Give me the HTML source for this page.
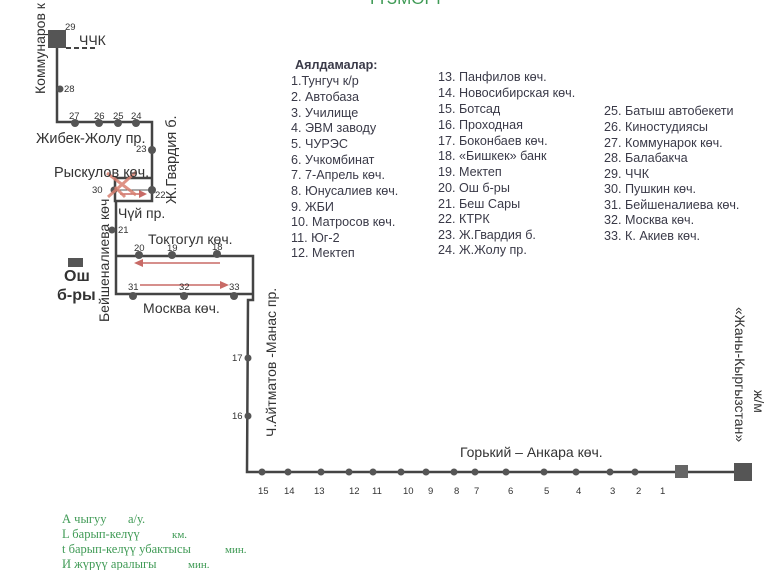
<!DOCTYPE html>
<html><head><meta charset="utf-8"><style>
html,body{margin:0;padding:0;background:#fff;}
svg{display:block;font-family:"Liberation Sans",Arial,sans-serif;}
.l{font-size:12.6px;fill:#3a3a48;}
.s{font-size:9.5px;fill:#333;}
.lb{font-size:14px;fill:#333;}
.g{font-family:"Liberation Serif",serif;font-size:12.5px;fill:#3f9a55;}
</style></head><body>
<svg width="777" height="570" viewBox="0 0 777 570" xmlns="http://www.w3.org/2000/svg">
<rect width="777" height="570" fill="#fff"/>
<text x="367" y="4" font-size="17" fill="#3f9a55">ТҮЗМӨГҮ</text>

<g fill="none" stroke="#444" stroke-width="2.5">
<polyline points="57,48 57,122 152,122 152,201 115,201 115,178 152,178"/>
<polyline points="116,201 116,294 253,294"/>
<polyline points="116,256 253,256 253,300 248,300 247,472 740,472"/>
</g>
<line x1="116" y1="190" x2="150" y2="190" stroke="#555" stroke-width="1"/>
<line x1="66" y1="48" x2="96" y2="48" stroke="#444" stroke-width="2" stroke-dasharray="5,3"/>
<rect x="48" y="30" width="18" height="18" fill="#555"/>
<rect x="675" y="465" width="13" height="13" fill="#666"/>
<rect x="734" y="463" width="18" height="18" fill="#555"/>
<rect x="68" y="258" width="15" height="9" fill="#555"/>

<g fill="#555">
<circle cx="60" cy="89" r="3.5"/>
<circle cx="75" cy="123" r="4"/><circle cx="99" cy="123" r="4"/><circle cx="118" cy="123" r="4"/><circle cx="136" cy="123" r="4"/>
<circle cx="152" cy="150" r="4"/><circle cx="152" cy="190" r="4"/><circle cx="114" cy="190" r="3.5"/>
<circle cx="112" cy="230" r="3.5"/>
<circle cx="139" cy="255" r="4"/><circle cx="172" cy="255" r="4"/><circle cx="217" cy="254" r="4"/>
<circle cx="133" cy="296" r="4"/><circle cx="184" cy="296" r="4"/><circle cx="234" cy="296" r="4"/>
<circle cx="248" cy="358" r="3.5"/><circle cx="248" cy="416" r="3.5"/>
<circle cx="262" cy="472" r="3.5"/><circle cx="288" cy="472" r="3.5"/><circle cx="321" cy="472" r="3.5"/><circle cx="349" cy="472" r="3.5"/><circle cx="373" cy="472" r="3.5"/><circle cx="401" cy="472" r="3.5"/><circle cx="426" cy="472" r="3.5"/><circle cx="454" cy="472" r="3.5"/><circle cx="475" cy="472" r="3.5"/><circle cx="506" cy="472" r="3.5"/><circle cx="544" cy="472" r="3.5"/><circle cx="576" cy="472" r="3.5"/><circle cx="610" cy="472" r="3.5"/><circle cx="635" cy="472" r="3.5"/>
</g>

<g stroke="#c86a66" stroke-width="1.5" fill="#c86a66">
<line x1="220" y1="263" x2="140" y2="263"/><polygon points="134,263 143,259 143,267" stroke="none"/>
<line x1="140" y1="285" x2="222" y2="285"/><polygon points="229,285 220,281 220,289" stroke="none"/>
<line x1="120" y1="194" x2="140" y2="194"/><polygon points="147,194 139,190 139,198" stroke="none"/>
</g>
<g stroke="#d98070" stroke-width="3" opacity="0.85">
<line x1="107" y1="173" x2="136" y2="195"/><line x1="136" y1="172" x2="108" y2="197"/>
<line x1="115" y1="187" x2="125" y2="197"/>
</g>

<g class="s">
<text x="65" y="30">29</text><text x="64" y="92">28</text>
<text x="69" y="119">27</text><text x="94" y="119">26</text><text x="113" y="119">25</text><text x="131" y="119">24</text>
<text x="136" y="152">23</text><text x="155" y="198">22</text><text x="92" y="193">30</text><text x="118" y="233">21</text>
<text x="134" y="251">20</text><text x="167" y="251">19</text><text x="212" y="250">18</text>
<text x="128" y="290">31</text><text x="179" y="290">32</text><text x="229" y="290">33</text>
<text x="232" y="361">17</text><text x="232" y="419">16</text>
<text x="258" y="494">15</text><text x="284" y="494">14</text><text x="314" y="494">13</text><text x="349" y="494">12</text><text x="372" y="494">11</text><text x="403" y="494">10</text><text x="428" y="494">9</text><text x="454" y="494">8</text><text x="474" y="494">7</text><text x="508" y="494">6</text><text x="544" y="494">5</text><text x="576" y="494">4</text><text x="610" y="494">3</text><text x="636" y="494">2</text><text x="660" y="494">1</text>
</g>

<g class="lb">
<text x="79" y="45">ЧЧК</text>
<text x="36" y="143" font-size="14.5">Жибек-Жолу пр.</text>
<text x="54" y="177" font-size="14.5">Рыскулов көч.</text>
<text x="118" y="218">Чүй пр.</text>
<text x="148" y="244">Токтогул көч.</text>
<text x="143" y="313">Москва көч.</text>
<text x="460" y="457">Горький – Анкара көч.</text>
<text transform="translate(45,94) rotate(-90)">Коммунаров к</text>
<text transform="translate(176,204) rotate(-90)" font-size="14.5">Ж.Гвардия б.</text>
<text transform="translate(109,322) rotate(-90)">Бейшеналиева көч</text>
<text transform="translate(276,437) rotate(-90)">Ч.Айтматов -Манас пр.</text>
<text transform="translate(735,307) rotate(90)">«Жаны-Кыргызстан»</text>
<text transform="translate(754,390) rotate(90)">ж/м</text>
</g>
<text x="64" y="281" font-size="16" font-weight="bold" fill="#333">Ош</text>
<text x="57" y="300" font-size="16" font-weight="bold" fill="#333">б-ры</text>

<text x="295" y="69" font-size="12.6" font-weight="bold" fill="#3a3a48">Аялдамалар:</text>
<g class="l">
<text x="291" y="85">1.Тунгуч к/р</text><text x="291" y="101">2. Автобаза</text><text x="291" y="117">3. Училище</text><text x="291" y="132">4.  ЭВМ заводу</text><text x="291" y="148">5. ЧУРЭС</text><text x="291" y="164">6. Учкомбинат</text><text x="291" y="179">7. 7-Апрель көч.</text><text x="291" y="195">8. Юнусалиев көч.</text><text x="291" y="211">9. ЖБИ</text><text x="291" y="226">10. Матросов көч.</text><text x="291" y="242">11. Юг-2</text><text x="291" y="257">12. Мектеп</text>
<text x="438" y="81">13. Панфилов көч.</text><text x="438" y="97">14. Новосибирская көч.</text><text x="438" y="113">15. Ботсад</text><text x="438" y="129">16. Проходная</text><text x="438" y="145">17. Боконбаев көч.</text><text x="438" y="160">18.  «Бишкек» банк</text><text x="438" y="176">19. Мектеп</text><text x="438" y="192">20. Ош б-ры</text><text x="438" y="208">21. Беш Сары</text><text x="438" y="223">22. КТРК</text><text x="438" y="239">23. Ж.Гвардия б.</text><text x="438" y="254">24. Ж.Жолу пр.</text>
<text x="604" y="115">25. Батыш автобекети</text><text x="604" y="131">26. Киностудиясы</text><text x="604" y="147">27. Коммунарок көч.</text><text x="604" y="162">28. Балабакча</text><text x="604" y="178">29. ЧЧК</text><text x="604" y="193">30. Пушкин көч.</text><text x="604" y="209">31. Бейшеналиева көч.</text><text x="604" y="224">32. Москва көч.</text><text x="604" y="240">33. К. Акиев көч.</text>
</g>

<g class="g">
<text x="62" y="523">А чыгуу</text><text x="128" y="523">а/у.</text>
<text x="62" y="538">L барып-келүү</text><text x="172" y="538" font-size="11">км.</text>
<text x="62" y="553">t барып-келүү убактысы</text><text x="225" y="553" font-size="11">мин.</text>
<text x="62" y="568">И жүрүү аралыгы</text><text x="188" y="568" font-size="11">мин.</text>
</g>
</svg>
</body></html>
